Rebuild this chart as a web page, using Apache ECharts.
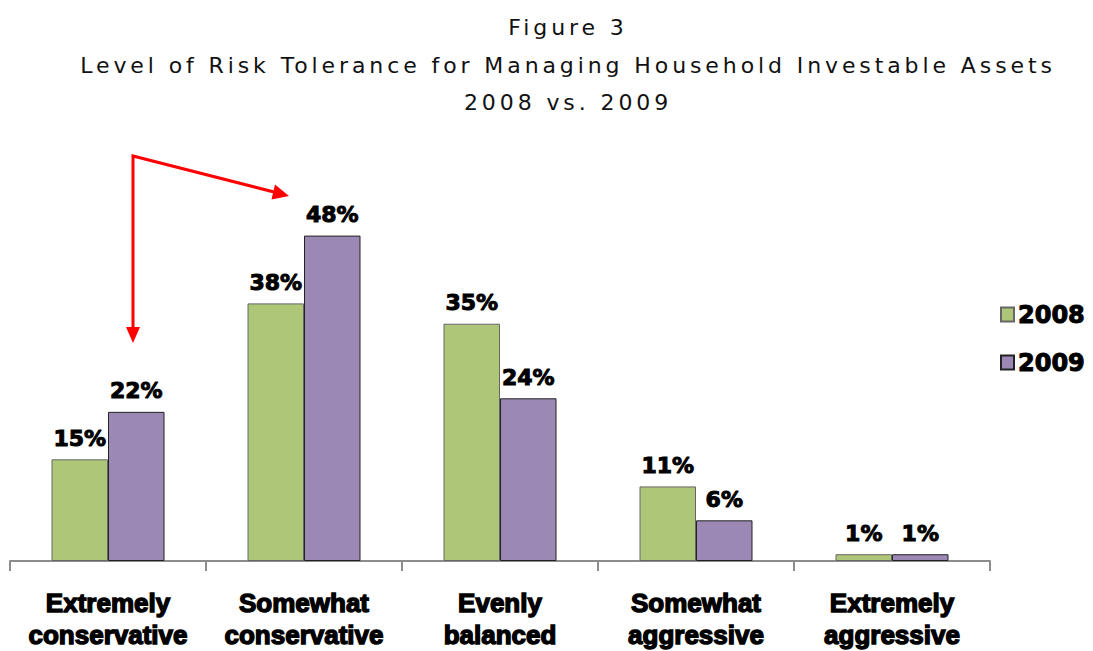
<!DOCTYPE html>
<html>
<head>
<meta charset="utf-8">
<title>Figure 3</title>
<script src="https://cdn.jsdelivr.net/npm/echarts@6/dist/echarts.min.js"></script>
<style>
  html, body { margin: 0; padding: 0; background: #fff; }
  #chart { width: 1093px; height: 651px; }
</style>
</head>
<body>
<div id="chart"></div>
<script>
// categories and values (percent)
const categories = [
  "Extremely\nconservative",
  "Somewhat\nconservative",
  "Evenly\nbalanced",
  "Somewhat\naggressive",
  "Extremely\naggressive"
];
const values2008 = [15, 38, 35, 11, 1];
const values2009 = [22, 48, 24, 6, 1];

const titleLines = [
  "Figure 3",
  "Level of Risk Tolerance for Managing Household Investable Assets",
  "2008 vs. 2009"
];

const heavyText = {
  color: "#000",
  fontWeight: "bold",
  textBorderColor: "#000",
  textBorderWidth: 1
};

const chart = echarts.init(document.getElementById("chart"), null, { renderer: "svg" });

const barLabel = {
  show: true,
  position: "top",
  distance: 10,
  formatter: "{c}%",
  fontSize: 22,
  fontFamily: "DejaVu Sans, Verdana, sans-serif",
  ...heavyText
};

// red annotation arrows
const arrowColor = "#ff0000";
const arrows = [
  {
    type: "polyline",
    shape: { points: [[133, 156], [133, 330], [133, 156], [274, 192]] },
    style: { stroke: arrowColor, lineWidth: 3, fill: null }
  },
  {
    type: "polygon",
    shape: { points: [[126, 327], [140, 327], [133, 343]] },
    style: { fill: arrowColor }
  },
  {
    type: "polygon",
    shape: { points: [[289, 196], [271.5, 199.5], [275, 184.5]] },
    style: { fill: arrowColor }
  }
];

chart.setOption({
  backgroundColor: "#fff",
  animation: false,
  title: {
    text: titleLines.join("\n"),
    left: 563,
    textAlign: "center",
    top: 4,
    textStyle: {
      fontFamily: "DejaVu Sans, Verdana, sans-serif",
      fontWeight: "normal",
      fontSize: 22,
      lineHeight: 37.5,
      color: "#111"
    }
  },
  legend: {
    data: ["2008", "2009"],
    orient: "vertical",
    left: 995,
    top: 297,
    itemWidth: 13,
    itemHeight: 14,
    itemGap: 23,
    icon: "rect",
    textStyle: {
      fontSize: 24,
      fontFamily: "DejaVu Sans, Verdana, sans-serif",
      ...heavyText,
      padding: [0, 0, 0, -1]
    }
  },
  grid: {
    left: 10,
    right: 103,
    top: 154.25,
    bottom: 88,
    containLabel: false
  },
  xAxis: {
    type: "category",
    data: categories,
    axisLine: { lineStyle: { color: "#8c8c8c", width: 2 } },
    axisTick: { show: true, length: 10, interval: 0, lineStyle: { color: "#8c8c8c", width: 2 } },
    axisLabel: {
      interval: 0,
      margin: 26,
      fontSize: 26,
      lineHeight: 32,
      fontFamily: "Liberation Sans, Arial, sans-serif",
      ...heavyText,
      textBorderWidth: 1.4
    }
  },
  yAxis: {
    type: "value",
    min: 0,
    max: 60,
    show: false
  },
  series: [
    {
      name: "2008",
      type: "bar",
      data: values2008,
      barWidth: 56.5,
      barGap: "0%",
      itemStyle: { color: "#adc677", borderColor: "#666", borderWidth: 1 },
      label: barLabel
    },
    {
      name: "2009",
      type: "bar",
      data: values2009,
      barWidth: 56.5,
      itemStyle: { color: "#9c88b4", borderColor: "#222", borderWidth: 1 },
      label: barLabel
    }
  ],
  graphic: arrows
});

// the title in the picture is widely tracked
document.querySelectorAll("#chart text").forEach((el) => {
  if (titleLines.includes(el.textContent.trim())) {
    el.setAttribute("letter-spacing", "3.9px");
  }
});
</script>
</body>
</html>
